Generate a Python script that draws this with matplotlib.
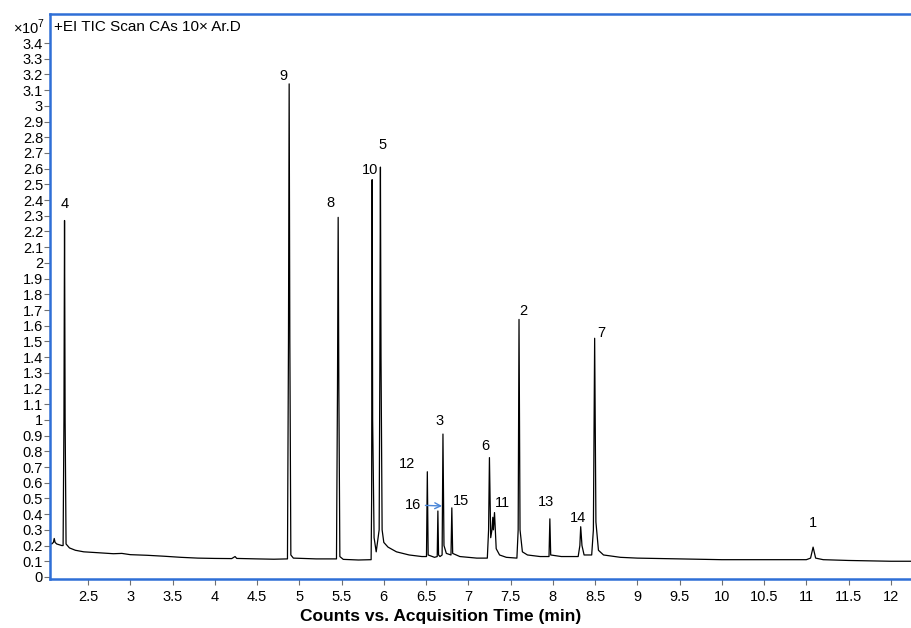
"""Recreate the TIC chromatogram (counts vs acquisition time)."""

import matplotlib

matplotlib.use("Agg")
import matplotlib.pyplot as plt
import numpy as np

plt.rcParams["font.family"] = ["Liberation Sans", "DejaVu Sans"]
plt.rcParams["mathtext.fontset"] = "custom"
plt.rcParams["mathtext.rm"] = "Liberation Sans"

# trace: time (min), counts (x1e7)
trace_time = [
    2.05, 2.07, 2.09, 2.10, 2.11, 2.13, 2.16, 2.19, 2.205, 2.215, 2.222, 2.229,
    2.24, 2.28, 2.35, 2.45, 2.6, 2.8, 2.9, 3.0, 3.2, 3.4, 3.6, 3.8, 4.0, 4.2,
    4.24, 4.26, 4.5, 4.7, 4.86, 4.872, 4.880, 4.888, 4.90, 4.93, 5.2, 5.44,
    5.452, 5.460, 5.468, 5.48, 5.52, 5.7, 5.85, 5.856, 5.862, 5.868, 5.885,
    5.91, 5.945, 5.953, 5.960, 5.967, 5.98, 6.0, 6.05, 6.15, 6.3, 6.45, 6.505,
    6.515, 6.525, 6.6, 6.632, 6.64, 6.648, 6.665, 6.69, 6.70, 6.712, 6.74,
    6.795, 6.805, 6.815, 6.9, 7.1, 7.225, 7.24, 7.25, 7.265, 7.28, 7.29,
    7.297, 7.31, 7.33, 7.37, 7.45, 7.575, 7.59, 7.60, 7.612, 7.64, 7.7, 7.85,
    7.955, 7.965, 7.975, 8.1, 8.3, 8.32, 8.33, 8.345, 8.37, 8.46, 8.48, 8.495,
    8.51, 8.54, 8.6, 8.8, 9.0, 9.5, 10.0, 10.5, 11.0, 11.05, 11.08, 11.11,
    11.2, 11.5, 12.0, 12.3,
]
trace_counts = [
    0.22, 0.21, 0.22, 0.245, 0.22, 0.21, 0.205, 0.20, 0.20, 1.0, 2.27, 1.0,
    0.21, 0.185, 0.17, 0.16, 0.155, 0.148, 0.15, 0.142, 0.138, 0.132, 0.125,
    0.12, 0.118, 0.117, 0.13, 0.118, 0.115, 0.113, 0.115, 1.5, 3.14, 1.5,
    0.14, 0.12, 0.115, 0.115, 1.2, 2.29, 1.2, 0.13, 0.112, 0.108, 0.11, 0.5,
    2.53, 1.0, 0.25, 0.16, 0.3, 1.3, 2.61, 1.4, 0.30, 0.22, 0.19, 0.16, 0.14,
    0.13, 0.13, 0.67, 0.14, 0.125, 0.13, 0.42, 0.14, 0.13, 0.14, 0.91, 0.2,
    0.15, 0.14, 0.44, 0.15, 0.13, 0.12, 0.12, 0.3, 0.76, 0.25, 0.3, 0.38,
    0.3, 0.41, 0.18, 0.14, 0.125, 0.12, 0.3, 1.64, 0.3, 0.16, 0.14, 0.13,
    0.13, 0.37, 0.14, 0.13, 0.13, 0.2, 0.32, 0.2, 0.14, 0.14, 0.3, 1.52,
    0.35, 0.17, 0.14, 0.125, 0.12, 0.115, 0.11, 0.11, 0.11, 0.12, 0.19,
    0.12, 0.11, 0.105, 0.10, 0.10,
]

# peak labels: name, apex time, apex counts
peak_names = ["4", "9", "8", "10", "5", "12", "3", "15", "6", "11", "2", "13", "14", "7", "1"]
peak_times = [2.222, 4.880, 5.460, 5.862, 5.960, 6.515, 6.70, 6.805, 7.25, 7.31, 7.60, 7.965, 8.33, 8.495, 11.08]
peak_heights = [2.27, 3.14, 2.29, 2.53, 2.61, 0.67, 0.91, 0.44, 0.76, 0.41, 1.64, 0.37, 0.32, 1.52, 0.19]
# label offsets in pixels from the apex
label_offsets = [(0, 16), (-6, 8), (-8, 14), (-2, 10), (2, 22), (-20, 8), (-3, 13),
                 (9, 7), (-4, 12), (8, 10), (4, 8), (-4, 17), (-3, 9), (7, 5), (0, 24)]

y_ticks = np.round(np.arange(0, 3.45, 0.1), 1)
x_ticks = np.arange(2.5, 12.01, 0.5)

blue = "#2f6fd6"

fig = plt.figure(figsize=(9.12, 6.28), dpi=100)
ax = fig.add_axes([50 / 912, 49 / 628, 870 / 912, 565 / 628])

ax.plot(trace_time, trace_counts, color="black", lw=0.9)

ax.set_xlim(2.05, 12.345)
ax.set_ylim(-0.013, 3.585)

ax.set_yticks(y_ticks)
ax.set_yticklabels([f"{v:g}" for v in y_ticks])
ax.set_xticks(x_ticks)
ax.set_xticklabels([f"{v:g}" for v in x_ticks])
ax.tick_params(axis="both", direction="out", length=4, width=0.8, color="#707070",
               labelsize=10.5, pad=1)
ax.tick_params(axis="x", pad=4)

for side in ["left", "top", "bottom"]:
    ax.spines[side].set_color(blue)
    ax.spines[side].set_linewidth(1.8)
ax.spines["right"].set_visible(False)

for name, t, h, off in zip(peak_names, peak_times, peak_heights, label_offsets):
    ax.annotate(name, (t, h), xytext=off, textcoords="offset pixels",
                ha="center", va="center", fontsize=10.5)

ax.annotate("16", (6.69, 0.452), xytext=(-29, 1), textcoords="offset pixels",
            ha="center", va="center", fontsize=10.5,
            arrowprops=dict(arrowstyle="->", color="#4a86d8", lw=1.0,
                            shrinkA=1, shrinkB=0))

ax.text(0.005, 0.99, "+EI TIC Scan CAs 10\u00d7 Ar.D", transform=ax.transAxes,
        ha="left", va="top", fontsize=11)

fig.text(13 / 912, 1 - 27 / 628, "\u00d710$^{7}$", ha="left", va="center", fontsize=10.5)
fig.text(441 / 912, 1 - 617 / 628, "Counts vs. Acquisition Time (min)",
         ha="center", va="center", fontsize=12.5, fontweight="bold")

fig.savefig("out.png", dpi=100)
